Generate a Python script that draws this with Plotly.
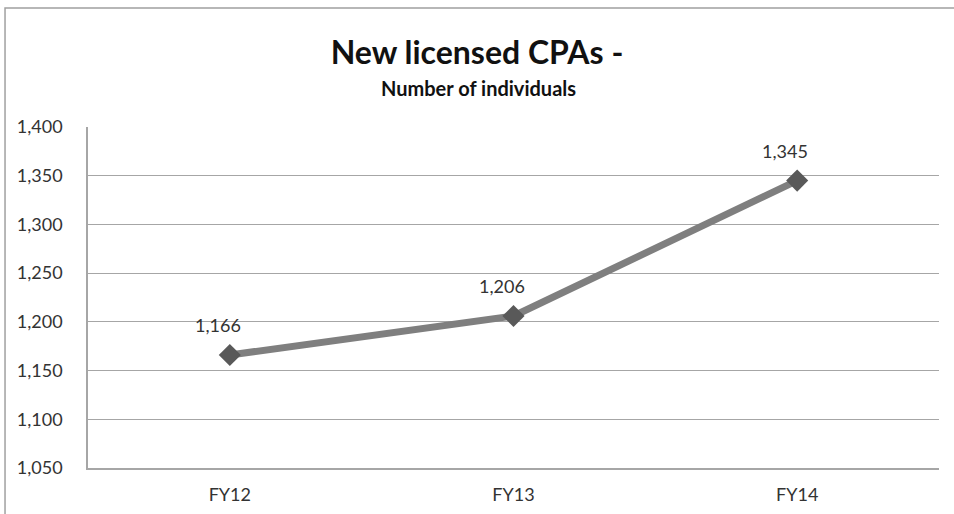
import plotly.graph_objects as go

categories = ["FY12", "FY13", "FY14"]
values = [1166, 1206, 1345]
y_ticks = [1050, 1100, 1150, 1200, 1250, 1300, 1350, 1400]

FONT = "Lato, 'Open Sans', sans-serif"

fig = go.Figure()
fig.add_trace(go.Scatter(
    x=categories, y=values, mode="lines+markers",
    line=dict(color="#7f7f7f", width=7),
    marker=dict(symbol="diamond", size=17, color="#595959"),
    hoverinfo="x+y", showlegend=False,
))

for c, v in zip(categories, values):
    fig.add_annotation(x=c, y=v, text=f"{v:,}", showarrow=False,
                       xshift=-12, yshift=30,
                       font=dict(family=FONT, size=18, color="#333333"))

fig.add_annotation(xref="paper", yref="paper", x=0.459, y=1.114,
                   xanchor="center", yanchor="middle",
                   text="<b>Number of individuals</b>", showarrow=False,
                   font=dict(family=FONT, size=20, color="#111111"))

# outer chart border (top and left visible)
fig.add_shape(type="rect", xref="paper", yref="paper",
              x0=-0.0975, y0=-1.0, x1=2.0, y1=1.349,
              line=dict(color="#a0a0a0", width=1.5), fillcolor="rgba(0,0,0,0)")

fig.update_layout(
    width=954, height=514,
    margin=dict(l=88, r=15, t=127, b=46, autoexpand=False),
    paper_bgcolor="white", plot_bgcolor="white",
    title=dict(text="<b>New licensed CPAs -</b>", x=0.5, xanchor="center",
               y=1 - 53 / 514, yanchor="middle", yref="container",
               font=dict(family=FONT, size=32, color="#111111")),
    font=dict(family=FONT, size=18, color="#333333"),
)
fig.update_xaxes(type="category", range=[-0.5, 2.5], automargin=False,
                 showgrid=False, showline=True,
                 linecolor="#a6a6a6", linewidth=1.5, ticks="",
                 ticklabelstandoff=10, tickfont=dict(size=18, color="#333333"))
fig.update_yaxes(range=[1050, 1400], tickvals=y_ticks, tickformat=",",
                 automargin=False,
                 showgrid=True, gridcolor="#a6a6a6", gridwidth=1.2,
                 showline=True, linecolor="#a6a6a6", linewidth=1.5,
                 zeroline=False, ticks="", ticklabelstandoff=20,
                 tickfont=dict(size=18, color="#333333"))

fig.write_html("out.html", config={"displayModeBar": False},
               post_script="document.body.style.margin='0';document.body.style.overflow='hidden';")
